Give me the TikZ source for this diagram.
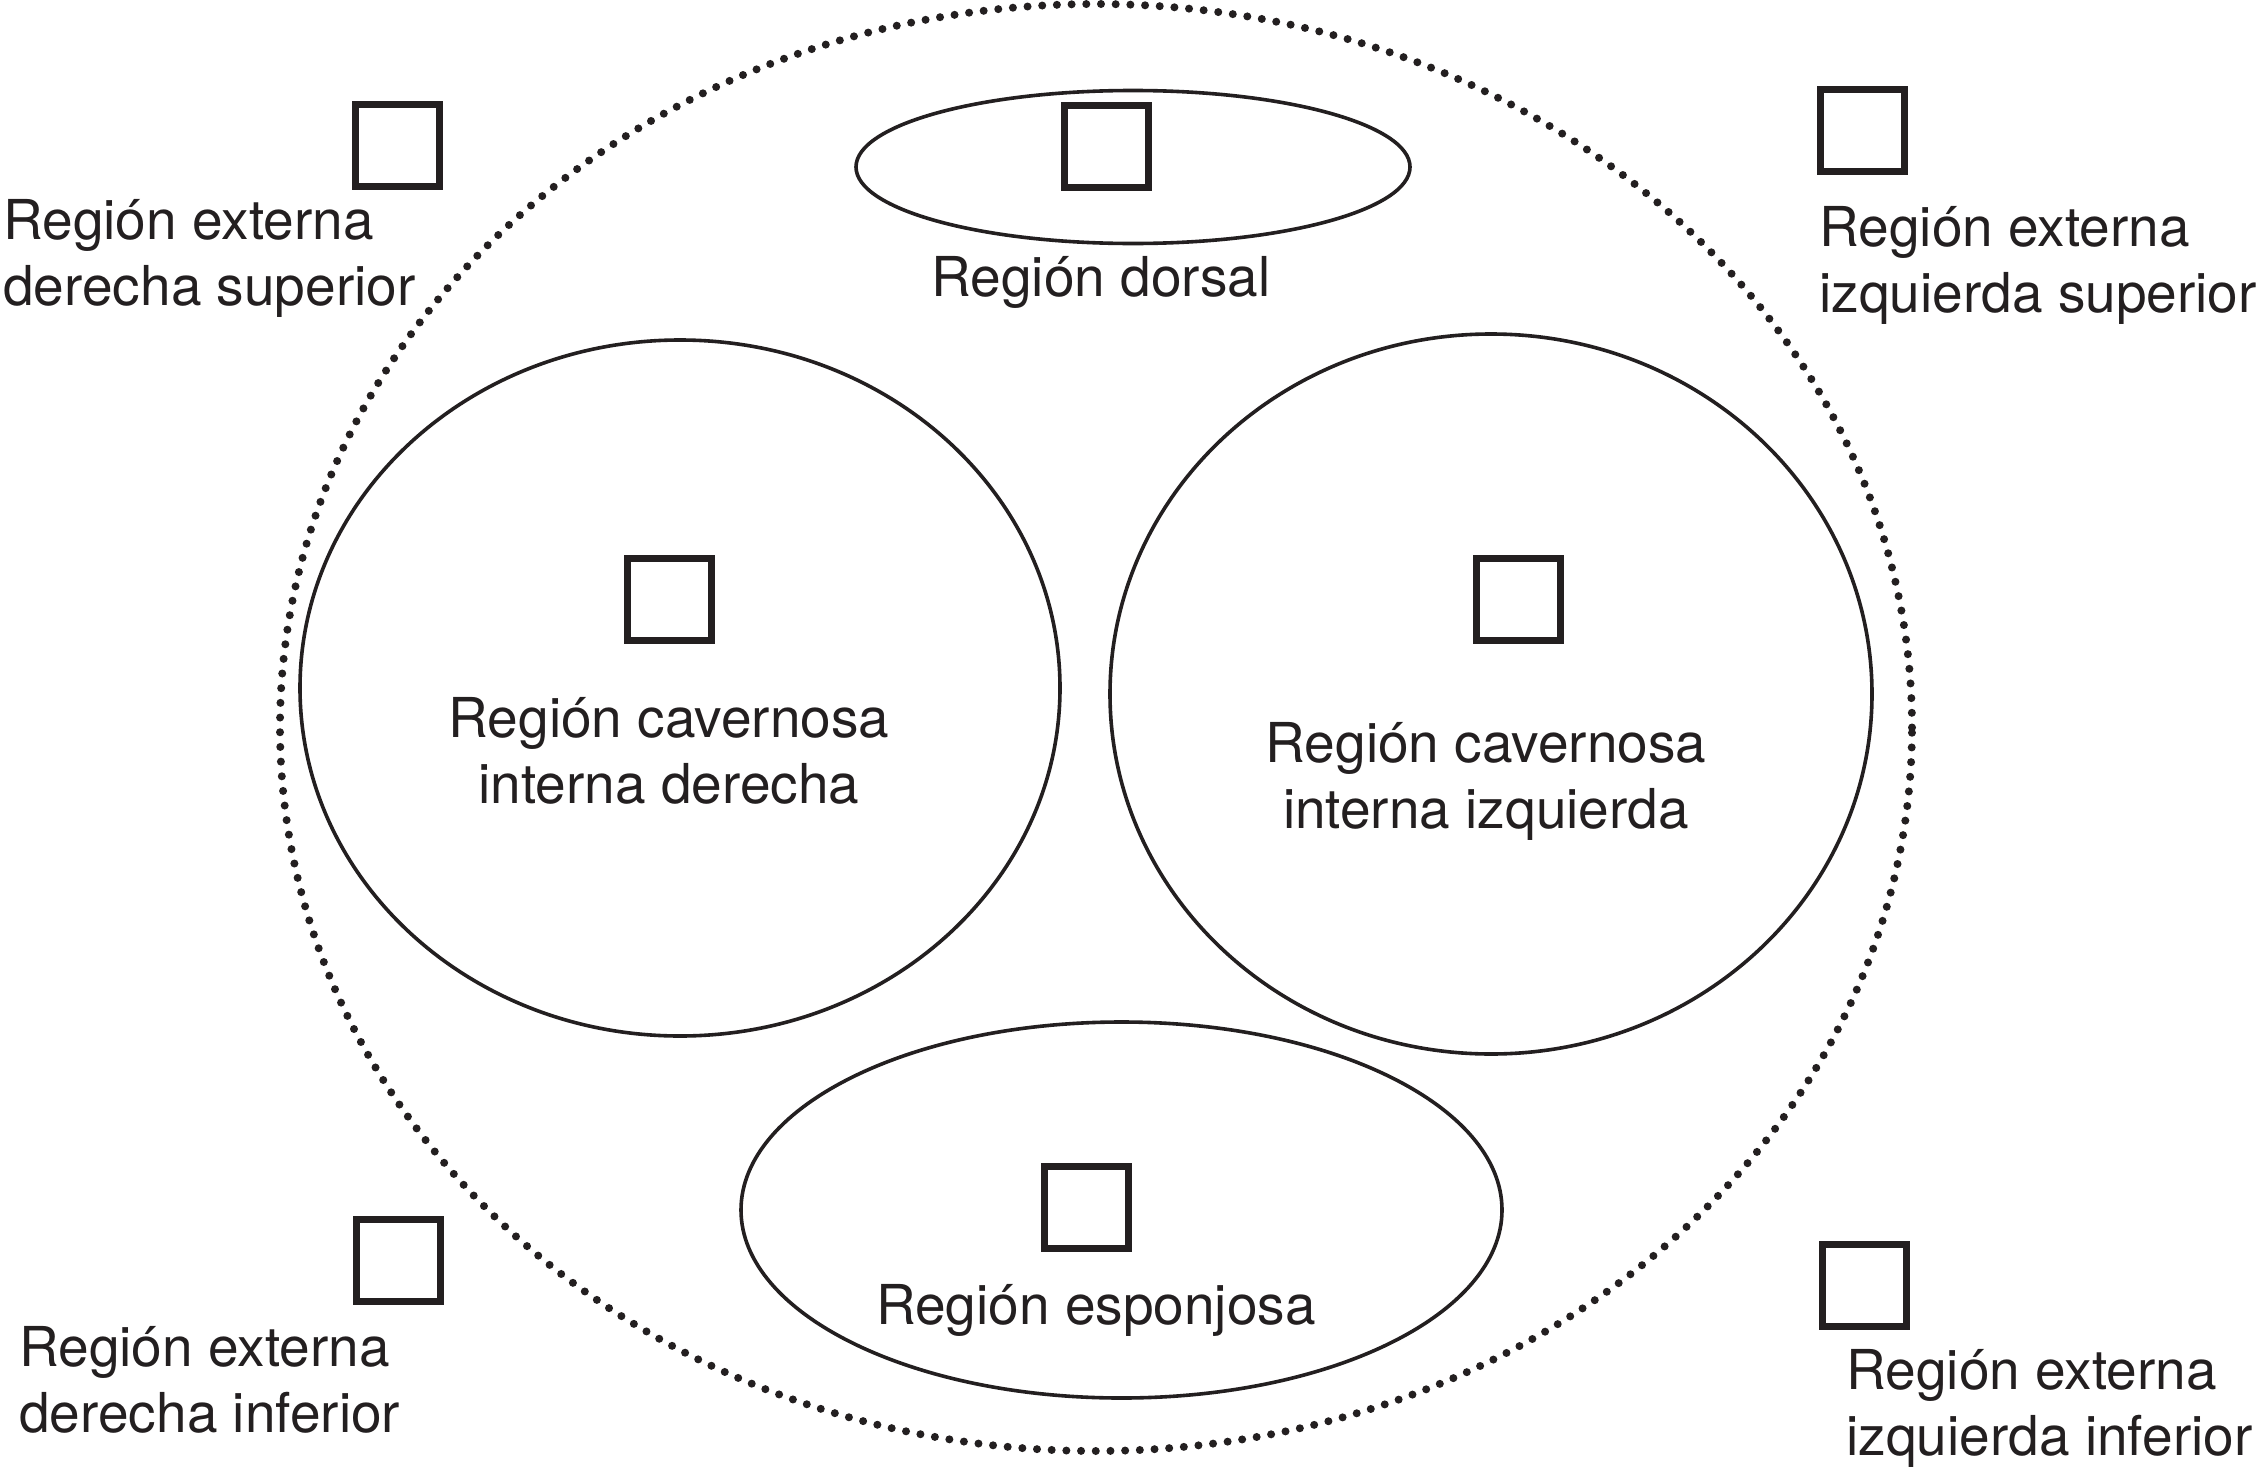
\documentclass[tikz,border=0pt]{standalone}
\usepackage{fontspec}
\setmainfont{TeX Gyre Heros}
\usetikzlibrary{shapes.geometric}
\definecolor{ink}{HTML}{231F20}
\begin{document}
\begin{tikzpicture}[x=0.5pt,y=-0.5pt,
  sq/.style={draw=ink,line width=3.5pt,minimum width=42pt,minimum height=41pt,inner sep=0pt},
  region/.style={draw=ink,ellipse,line width=1.8pt,inner sep=0pt},
  outerring/.style={draw=ink,ellipse,line width=4pt,dash pattern=on 0pt off 7.35pt,line cap=round,inner sep=0pt},
  lbl/.style={font=\fontsize{27.5pt}{33pt}\selectfont,text=ink,inner sep=0pt},
]
\useasboundingbox[fill=white] (0,0) rectangle (2260,1467);
% outer dotted ring
\node[outerring,minimum width=816pt,minimum height=723.5pt] (ring) at (1096,727.5) {};
% inner regions
\node[region,minimum width=277pt,minimum height=76.5pt] (dorsal) at (1133,167) {};
\node[region,minimum width=380pt,minimum height=348pt] (cavder) at (680,688) {};
\node[region,minimum width=381pt,minimum height=360pt] (cavizq) at (1491,694) {};
\node[region,minimum width=380.5pt,minimum height=188pt] (esp) at (1121.5,1210) {};
% squares
\node[sq] (sqdorsal) at (1106,146) {};
\node[sq] (sqcavder) at (669,599) {};
\node[sq] (sqcavizq) at (1518,599) {};
\node[sq] (sqesp) at (1086,1207) {};
\node[sq] (sqeds) at (397,145) {};
\node[sq] (sqeis) at (1862,130) {};
\node[sq] (sqedi) at (398,1260) {};
\node[sq] (sqeii) at (1864,1285) {};
% labels
\node[lbl,anchor=north] (tdorsal) at (1101,256) {Región dorsal};
\node[lbl,anchor=north,align=center] (tcavder) at (669,697) {Región cavernosa\\interna derecha};
\node[lbl,anchor=north,align=center] (tcavizq) at (1486,722) {Región cavernosa\\interna izquierda};
\node[lbl,anchor=north] (tesp) at (1096,1284) {Región esponjosa};
\node[lbl,anchor=north west,align=left] (teds) at (3,199) {Región externa\\derecha superior};
\node[lbl,anchor=north west,align=left] (teis) at (1819,206) {Región externa\\izquierda superior};
\node[lbl,anchor=north west,align=left] (tedi) at (19,1326) {Región externa\\derecha inferior};
\node[lbl,anchor=north west,align=left] (teii) at (1846,1349) {Región externa\\izquierda inferior};
\end{tikzpicture}
\end{document}
